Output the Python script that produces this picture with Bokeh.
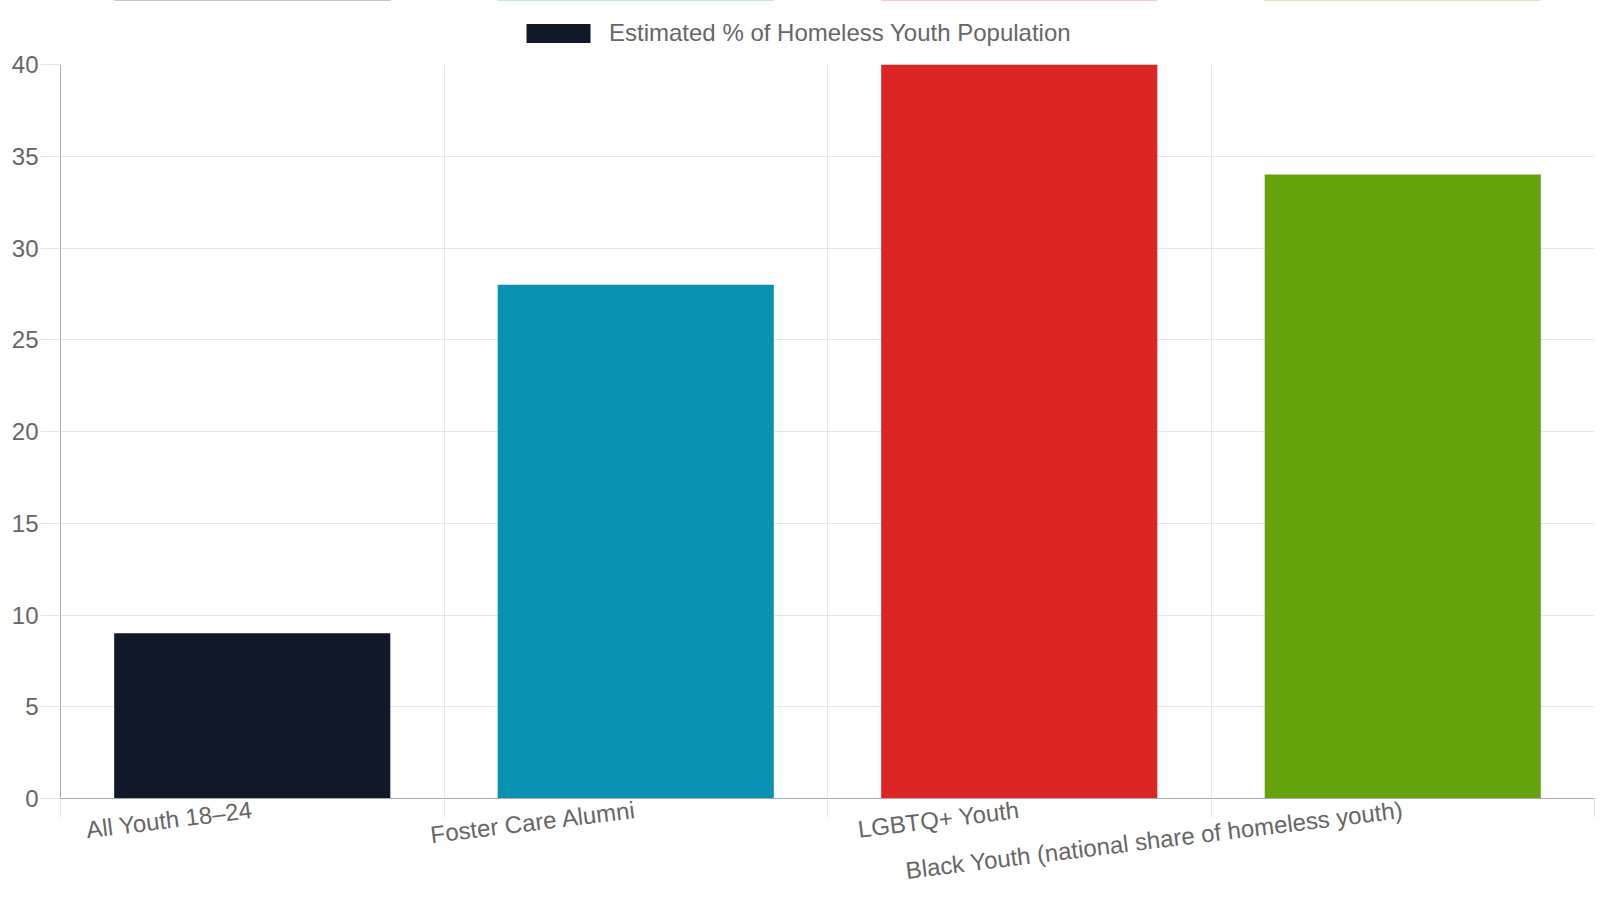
import math
from bokeh.plotting import figure
from bokeh.layouts import column
from bokeh.models import ColumnDataSource, FixedTicker, Legend, LegendItem, Range1d
from bokeh.embed import file_html
from bokeh.resources import INLINE

# ---- data ----
categories = [
    "All Youth 18–24",
    "Foster Care Alumni",
    "LGBTQ+ Youth",
    "Black Youth (national share of homeless youth)",
]
values = [9, 28, 40, 34]
colors = ["#111827", "#0891b2", "#dc2626", "#65a30d"]
series_name = "Estimated % of Homeless Youth Population"
y_ticks = [0, 5, 10, 15, 20, 25, 30, 35, 40]

FONT = "Liberation Sans"
TEXT = "#666666"
GRID = "#e5e5e5"
AXIS = "#aaaaaa"

x_centers = [i + 0.5 for i in range(len(categories))]
boundaries = list(range(len(categories) + 1))
src = ColumnDataSource(dict(x=x_centers, top=values, color=colors, label=categories))

# ---- legend strip on top (its bars lie far outside its view; only the legend shows) ----
lg = figure(
    width=1600, height=50, output_backend="svg", toolbar_location=None,
    x_range=Range1d(0, len(categories)), y_range=Range1d(-200, -199),
    x_axis_type=None, y_axis_type=None, min_border=0,
)
lg.outline_line_color = None
lg.xgrid.visible = False
lg.ygrid.visible = False
lr = lg.vbar(x="x", top="top", bottom=0, width=0.72, fill_color="color",
             line_color=None, source=src)
legend = Legend(
    items=[LegendItem(label=series_name, renderers=[lr], index=0)],
    location=(458, 3), orientation="horizontal",
    glyph_width=80, glyph_height=24, label_height=24,
    label_text_font=FONT, label_text_font_size="24px", label_text_color=TEXT,
    label_standoff=11, padding=0, margin=0,
    border_line_color=None, background_fill_alpha=0,
)
lg.add_layout(legend, "center")

# ---- main chart ----
p = figure(
    width=1600, height=850, output_backend="svg", toolbar_location=None,
    x_range=Range1d(0, len(categories)), y_range=Range1d(0, 40),
    min_border_left=60, min_border_right=6, min_border_top=14, min_border_bottom=101,
)
p.outline_line_color = None
p.background_fill_color = "white"
p.border_fill_color = "white"

r = p.vbar(x="x", top="top", bottom=0, width=0.72, fill_color="color",
           line_color=None, source=src)

# x axis
xa = p.xaxis[0]
xa.ticker = FixedTicker(ticks=x_centers, minor_ticks=boundaries)
xa.major_label_overrides = {xc: c for xc, c in zip(x_centers, categories)}
xa.major_label_orientation = math.radians(7)
xa.major_tick_out = 0
xa.major_tick_in = 0
xa.minor_tick_out = 19
xa.minor_tick_in = 0
xa.minor_tick_line_color = GRID
xa.axis_line_color = AXIS
xa.major_label_text_font = FONT
xa.major_label_text_font_size = "24px"
xa.major_label_text_color = TEXT
xa.major_label_standoff = -8

# y axis
ya = p.yaxis[0]
ya.ticker = FixedTicker(ticks=y_ticks)
ya.major_tick_out = 20
ya.major_tick_in = 0
ya.minor_tick_out = 0
ya.minor_tick_in = 0
ya.major_tick_line_color = GRID
ya.axis_line_color = AXIS
ya.major_label_text_font = FONT
ya.major_label_text_font_size = "24px"
ya.major_label_text_color = TEXT
ya.major_label_standoff = 2

# grids
p.xgrid.ticker = FixedTicker(ticks=boundaries)
p.ygrid.ticker = FixedTicker(ticks=y_ticks)
p.xgrid.grid_line_color = GRID
p.ygrid.grid_line_color = GRID

layout = column(lg, p, spacing=0)
open("out.html", "w").write(file_html(layout, INLINE))
